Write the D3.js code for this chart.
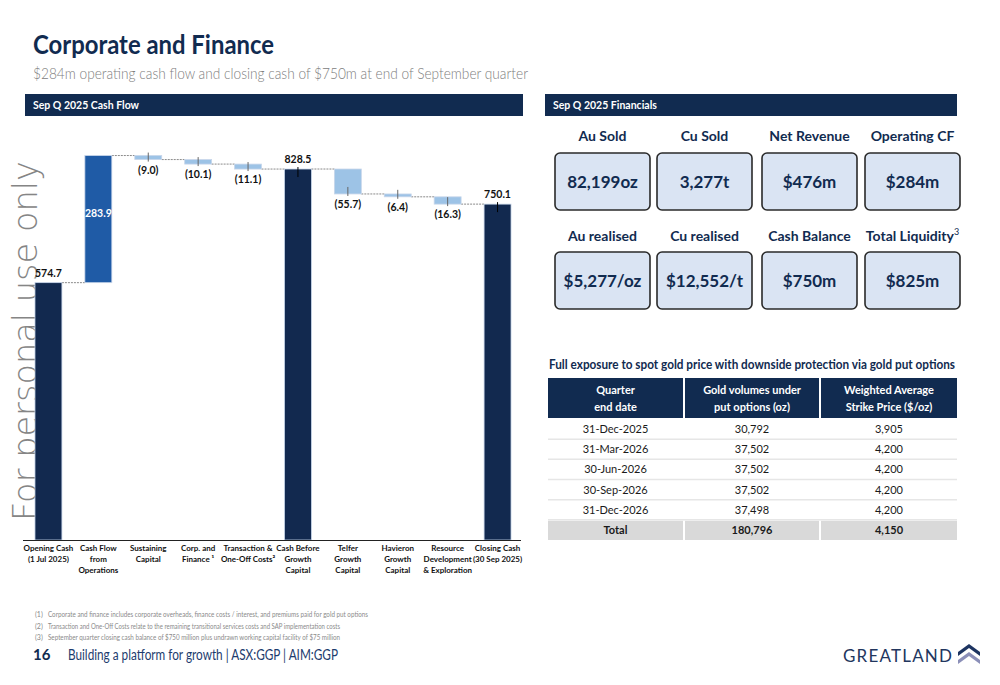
<!DOCTYPE html>
<html>
<head>
<meta charset="utf-8">
<script src="https://cdn.jsdelivr.net/npm/d3@7"></script>
<style>
  body { margin: 0; background: #fff; }
  svg { display: block; font-family: Lato, 'Open Sans', sans-serif; }
</style>
</head>
<body>
<script>
// waterfall data
var categories = ['Opening Cash', 'Cash Flow', 'Sustaining', 'Corp', 'Transaction', 'Cash Before',
  'Telfer', 'Havieron', 'Resource', 'Closing Cash'];
var catLines = [
  ['Opening Cash', '(1 Jul 2025)'],
  ['Cash Flow', 'from', 'Operations'],
  ['Sustaining', 'Capital'],
  ['Corp. and', 'Finance \u00b9'],
  ['Transaction &', 'One-Off Costs\u00b2'],
  ['Cash Before', 'Growth', 'Capital'],
  ['Telfer', 'Growth', 'Capital'],
  ['Havieron', 'Growth', 'Capital'],
  ['Resource', 'Development', '& Exploration'],
  ['Closing Cash', '(30 Sep 2025)']
];
var values = [574.7, 283.9, -9.0, -10.1, -11.1, 828.5, -55.7, -6.4, -16.3, 750.1];
var kinds = ['total', 'up', 'down', 'down', 'down', 'total', 'down', 'down', 'down', 'total'];

// financials
var finLabels = ['Au Sold', 'Cu Sold', 'Net Revenue', 'Operating CF',
  'Au realised', 'Cu realised', 'Cash Balance', 'Total Liquidity'];
var finValues = ['82,199oz', '3,277t', '$476m', '$284m',
  '$5,277/oz', '$12,552/t', '$750m', '$825m'];

// put options table
var quarters = ['31-Dec-2025', '31-Mar-2026', '30-Jun-2026', '30-Sep-2026', '31-Dec-2026', 'Total'];
var volumes = ['30,792', '37,502', '37,502', '37,502', '37,498', '180,796'];
var strikes = ['3,905', '4,200', '4,200', '4,200', '4,200', '4,150'];

var footnotes = [
  'Corporate and finance includes corporate overheads, finance costs / interest, and premiums paid for gold put options',
  'Transaction and One-Off Costs relate to the remaining transitional services costs and SAP implementation costs',
  'September quarter closing cash balance of $750 million plus undrawn working capital facility of $75 million'
];
var footnoteLen = [320, 292, 292];

var navy = '#112b50';

var svg = d3.select('body').append('svg')
  .attr('width', 1000)
  .attr('height', 685);

// title
svg.append('text').attr('x', 33).attr('y', 54)
  .attr('textLength', 241).attr('lengthAdjust', 'spacingAndGlyphs')
  .style('font-size', '27px').style('font-weight', 700).style('fill', navy)
  .text('Corporate and Finance');
svg.append('text').attr('x', 33).attr('y', 79)
  .attr('textLength', 495).attr('lengthAdjust', 'spacingAndGlyphs')
  .style('font-size', '15px').style('font-weight', 300).style('fill', '#808080')
  .text('$284m operating cash flow and closing cash of $750m at end of September quarter');

// section header bars
function headerBar(x, w, label) {
  svg.append('rect').attr('x', x).attr('y', 94).attr('width', w).attr('height', 22).style('fill', navy);
  svg.append('text').attr('x', x + 8).attr('y', 109)
    .style('font-size', '10.5px').style('font-weight', 700).style('fill', '#fff')
    .text(label);
}
headerBar(25, 498, 'Sep Q 2025 Cash Flow');
headerBar(545, 412, 'Sep Q 2025 Financials');

// watermark, sits behind the bars
svg.append('text')
  .attr('transform', 'translate(37,521) rotate(-90)')
  .attr('textLength', 360).attr('lengthAdjust', 'spacingAndGlyphs')
  .style('font-family', "'DejaVu Sans', sans-serif")
  .style('font-size', '33px').style('font-weight', 200).style('fill', '#858585')
  .text('For personal use only');

// ---- waterfall ----
var xScale = d3.scaleBand().domain(categories).range([23.5, 522.5]).paddingInner(0.46).paddingOuter(0.23);
var yScale = d3.scaleLinear().domain([0, 900]).range([540, 137]);

// compute start/end for each bar
var running = 0;
var steps = values.map(function(v, i) {
  var s, e;
  if (kinds[i] === 'total') { s = 0; e = v; running = v; }
  else { s = running; e = running + v; running = e; }
  return {cat: categories[i], v: v, kind: kinds[i], start: s, end: e, i: i};
});

var colors = {total: '#12294f', up: '#1f5ba6', down: '#9dc3e6'};
var g = svg.append('g');

// connectors
g.selectAll('.conn')
  .data(steps.slice(0, -1))
  .enter().append('line')
  .attr('x1', function(d) { return xScale(d.cat) + xScale.bandwidth(); })
  .attr('x2', function(d) { return xScale(categories[d.i + 1]); })
  .attr('y1', function(d) { return yScale(d.end); })
  .attr('y2', function(d) { return yScale(d.end); })
  .style('stroke', '#8a8a8a').style('stroke-width', 1).style('stroke-dasharray', '2,1');

g.selectAll('.bar')
  .data(steps)
  .enter().append('rect')
  .attr('x', function(d) { return xScale(d.cat); })
  .attr('y', function(d) { return yScale(Math.max(d.start, d.end)); })
  .attr('width', xScale.bandwidth())
  .attr('height', function(d) { return Math.abs(yScale(d.start) - yScale(d.end)); })
  .style('fill', function(d) { return colors[d.kind]; })
  .style('stroke', '#c8d6ea').style('stroke-width', 0.8);

// small leader ticks
g.selectAll('.tick-l')
  .data(steps.filter(function(d) { return d.i > 1; }))
  .enter().append('line')
  .attr('x1', function(d) { return xScale(d.cat) + xScale.bandwidth() / 2; })
  .attr('x2', function(d) { return xScale(d.cat) + xScale.bandwidth() / 2; })
  .attr('y1', function(d) { return d.kind === 'total' ? yScale(d.end) - 2 : yScale(d.end) - 7; })
  .attr('y2', function(d) { return d.kind === 'total' ? yScale(d.end) + 8 : yScale(d.end) + 2; })
  .style('stroke', function(d) { return d.kind === 'total' ? '#000' : '#666'; })
  .style('stroke-width', 1);

// value labels
var fmt = d3.format('.1f');
g.selectAll('.val')
  .data(steps)
  .enter().append('text')
  .attr('text-anchor', 'middle')
  .attr('x', function(d) { return xScale(d.cat) + xScale.bandwidth() / 2; })
  .attr('y', function(d) {
    if (d.kind === 'up') return yScale((d.start + d.end) / 2) - 2;
    if (d.kind === 'down') return yScale(d.end) + 14;
    return yScale(d.end) - 6;
  })
  .style('font-size', '10.5px').style('font-weight', 700)
  .style('fill', function(d) { return d.kind === 'up' ? '#fff' : '#111'; })
  .text(function(d) { return d.kind === 'down' ? '(' + fmt(-d.v) + ')' : fmt(d.v); });

// x axis
g.append('line').attr('x1', 23).attr('x2', 521).attr('y1', 540.5).attr('y2', 540.5)
  .style('stroke', '#222').style('stroke-width', 1);

var xl = g.selectAll('.xlab')
  .data(categories)
  .enter().append('text')
  .attr('text-anchor', 'middle')
  .attr('x', function(d) { return xScale(d) + xScale.bandwidth() / 2; })
  .attr('y', 551)
  .style('font-size', '8px').style('font-weight', 700).style('fill', '#111');
xl.each(function(d, i) {
  var t = d3.select(this);
  catLines[i].forEach(function(line, j) {
    t.append('tspan').attr('x', xScale(d) + xScale.bandwidth() / 2)
      .attr('dy', j === 0 ? 0 : 11).text(line);
  });
});

// ---- financial boxes ----
var boxX = [555, 657, 762, 865];
var boxW = 95;
var rowTop = [153, 252];
var labelY = [141, 241];
finLabels.forEach(function(lbl, i) {
  var c = i % 4, r = Math.floor(i / 4);
  var cx = boxX[c] + boxW / 2;
  var t = svg.append('text').attr('x', cx).attr('y', labelY[r]).attr('text-anchor', 'middle')
    .style('font-size', '14px').style('font-weight', 700).style('fill', navy)
    .text(lbl);
  if (lbl === 'Total Liquidity') {
    t.append('tspan').attr('dy', -6).style('font-size', '9px').style('font-weight', 400).text('3');
  }
  svg.append('rect').attr('x', boxX[c]).attr('y', rowTop[r]).attr('width', boxW).attr('height', 57)
    .attr('rx', 5)
    .style('fill', '#dae4f3').style('stroke', '#2a2a2a').style('stroke-width', 1.6);
  svg.append('text').attr('x', cx).attr('y', rowTop[r] + 35).attr('text-anchor', 'middle')
    .style('font-size', '17px').style('font-weight', 700).style('fill', navy)
    .text(finValues[i]);
});

// ---- put options table ----
svg.append('text').attr('x', 549).attr('y', 369)
  .attr('textLength', 406).attr('lengthAdjust', 'spacingAndGlyphs')
  .style('font-size', '12.5px').style('font-weight', 700).style('fill', navy)
  .text('Full exposure to spot gold price with downside protection via gold put options');

var colX = [548, 685, 821];
var colW = [135, 134, 136];
var headers = [['Quarter', 'end date'], ['Gold volumes under', 'put options (oz)'], ['Weighted Average', 'Strike Price ($/oz)']];
headers.forEach(function(h, c) {
  svg.append('rect').attr('x', colX[c]).attr('y', 378).attr('width', colW[c]).attr('height', 40).style('fill', navy);
  h.forEach(function(line, j) {
    svg.append('text').attr('x', colX[c] + colW[c] / 2).attr('y', 394 + j * 17)
      .attr('text-anchor', 'middle')
      .style('font-size', '11px').style('font-weight', 700).style('fill', '#fff')
      .text(line);
  });
});

var rowY = d3.scaleBand().domain(d3.range(quarters.length)).range([419, 540]);
quarters.forEach(function(q, r) {
  var y0 = rowY(r);
  var isTotal = r === quarters.length - 1;
  if (isTotal) {
    colX.forEach(function(x, c) {
      svg.append('rect').attr('x', x).attr('y', y0 + 1).attr('width', colW[c]).attr('height', rowY.bandwidth() - 1)
        .style('fill', '#d9d9d9');
    });
  } else {
    svg.append('line').attr('x1', 548).attr('x2', 957).attr('y1', y0 + rowY.bandwidth()).attr('y2', y0 + rowY.bandwidth())
      .style('stroke', '#e6e6e6').style('stroke-width', 1.5);
  }
  [q, volumes[r], strikes[r]].forEach(function(v, c) {
    svg.append('text').attr('x', colX[c] + colW[c] / 2).attr('y', y0 + 14)
      .attr('text-anchor', 'middle')
      .style('font-size', '11px').style('font-weight', isTotal ? 700 : 400).style('fill', '#1a1a1a')
      .text(v);
  });
});

// ---- footnotes & footer ----
footnotes.forEach(function(f, i) {
  svg.append('text').attr('x', 35).attr('y', 617 + i * 11.5)
    .style('font-size', '7px').style('fill', '#8a8a8a').text('(' + (i + 1) + ')');
  svg.append('text').attr('x', 48).attr('y', 617 + i * 11.5)
    .attr('textLength', footnoteLen[i]).attr('lengthAdjust', 'spacingAndGlyphs')
    .style('font-size', '7px').style('fill', '#8a8a8a').text(f);
});

svg.append('text').attr('x', 33).attr('y', 660)
  .style('font-size', '15px').style('font-weight', 700).style('fill', navy).text('16');
svg.append('text').attr('x', 68).attr('y', 660)
  .attr('textLength', 270).attr('lengthAdjust', 'spacingAndGlyphs')
  .style('font-size', '15.5px').style('font-weight', 400).style('fill', '#1d3c6e')
  .text('Building a platform for growth  |  ASX:GGP  |  AIM:GGP');

// logo
svg.append('text').attr('x', 843).attr('y', 662)
  .style('font-size', '17px').style('letter-spacing', '1.2px').style('fill', '#22365e')
  .text('GREATLAND');
svg.append('path').attr('d', 'M958,652 L969,644 L980,652 L980,656 L969,648 L958,656 Z').style('fill', '#1d3461');
svg.append('path').attr('d', 'M958,660 L969,652 L980,660 L980,664 L969,656 L958,664 Z').style('fill', '#8b8fb8');
</script>
</body>
</html>
